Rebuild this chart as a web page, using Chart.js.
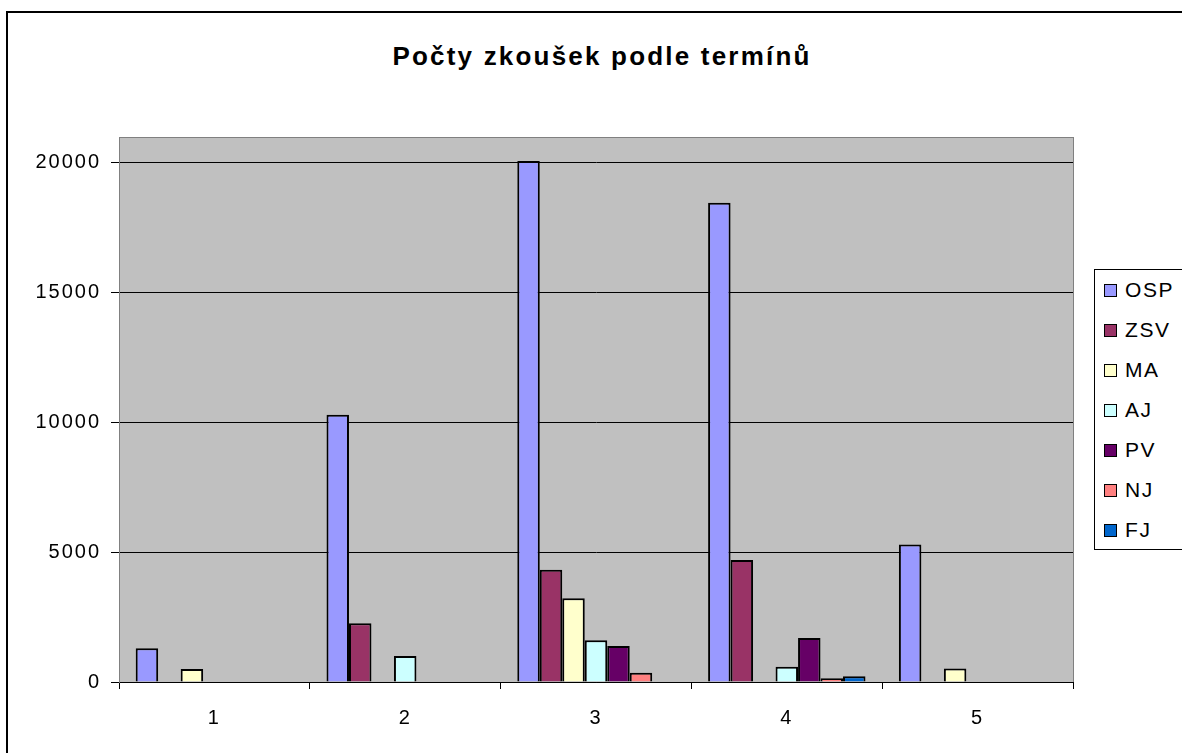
<!DOCTYPE html>
<html>
<head>
<meta charset="utf-8">
<script src="https://cdn.jsdelivr.net/npm/chart.js@4"></script>
<style>
  body { margin: 0; background: #fff; overflow: hidden; }
  #wrap { position: relative; width: 1182px; height: 753px; overflow: hidden; font-family: "Liberation Sans", Arial, sans-serif; }
  #frame { position: absolute; left: 6px; top: 11px; width: 1300px; height: 900px; border: 2px solid #000; }
  #title { position: absolute; left: 360px; width: 484px; top: 40px; text-align: center; font-weight: bold; font-size: 26px; line-height: 32px; letter-spacing: 2.2px; color: #000; }
  #chart-box { position: absolute; left: 0; top: 0; width: 1182px; height: 753px; }
  #legend { position: absolute; left: 1094px; top: 269px; width: 140px; height: 279px; border: 1px solid #000; background: #fff; }
  .item { position: absolute; left: 9px; height: 24px; line-height: 24px; font-size: 21px; letter-spacing: 1.6px; color: #000; }
  .item span { display: inline-block; width: 11px; height: 11px; border: 1px solid #000; margin-right: 8px; vertical-align: 0px; }
</style>
</head>
<body>
<div id="wrap">
  <div id="frame"></div>
  <div id="title">Počty zkoušek podle termínů</div>
  <div id="chart-box"><canvas id="exams"></canvas></div>
  <div id="legend"></div>
</div>
<script>
const terms = ["1", "2", "3", "4", "5"];
const seriesNames = ["OSP", "ZSV", "MA", "AJ", "PV", "NJ", "FJ"];
const seriesColors = ["#9999FF", "#993366", "#FFFFCC", "#CCFFFF", "#660066", "#FF8080", "#0066CC"];

const osp = [1300, 10300, 20080, 18470, 5300];
const zsv = [0, 2260, 4330, 4700, 0];
const ma = [500, 0, 3230, 0, 520];
const aj = [0, 1000, 1610, 590, 0];
const pv = [0, 0, 1390, 1700, 0];
const nj = [0, 0, 360, 140, 0];
const fj = [0, 0, 0, 220, 0];

const yTicks = [0, 5000, 10000, 15000, 20000];

const plotArea = {
  id: "plotArea",
  beforeDraw(chart) {
    const { ctx, chartArea: a } = chart;
    ctx.save();
    ctx.fillStyle = "#C0C0C0";
    ctx.fillRect(a.left, a.top, a.right - a.left, a.bottom - a.top);
    ctx.strokeStyle = "#808080";
    ctx.lineWidth = 1;
    ctx.strokeRect(a.left + 0.5, a.top + 0.5, a.right - a.left, a.bottom - a.top);
    ctx.restore();
    ctx.letterSpacing = "2px";
  },
  beforeLayout(chart) {
    chart.ctx.letterSpacing = "2px";
  },
};

function buildLegend() {
  const box = document.getElementById("legend");
  seriesNames.forEach((name, i) => {
    const el = document.createElement("div");
    el.className = "item";
    el.style.top = 8 + i * 40 + "px";
    const sw = document.createElement("span");
    sw.style.background = seriesColors[i];
    el.appendChild(sw);
    el.appendChild(document.createTextNode(name));
    box.appendChild(el);
  });
}

document.addEventListener("DOMContentLoaded", () => {
  buildLegend();

  const values = [osp, zsv, ma, aj, pv, nj, fj];
  let ctx = document.getElementById("exams").getContext("2d");

  new Chart(ctx, {
    type: "bar",
    data: {
      labels: terms,
      datasets: seriesNames.map((name, i) => ({
        label: name,
        data: values[i],
        backgroundColor: seriesColors[i],
        borderColor: "#000",
        borderWidth: 2,
        borderSkipped: "start",
        categoryPercentage: 0.825,
        barPercentage: 1,
      })),
    },
    options: {
      responsive: true,
      maintainAspectRatio: false,
      animation: false,
      layout: {
        padding: { left: 19, right: 109, top: 137, bottom: 0 },
      },
      plugins: {
        legend: { display: false },
        title: { display: false },
        tooltip: { enabled: false },
      },
      scales: {
        x: {
          offset: true,
          grid: {
            display: true,
            drawOnChartArea: false,
            drawTicks: true,
            tickLength: 7,
            tickColor: "#000",
            offset: true,
          },
          border: { display: true, color: "#000", width: 1 },
          ticks: {
            color: "#000",
            padding: 17,
            font: { family: "Liberation Sans", size: 20 },
          },
          afterFit: (s) => { s.height = 71; },
        },
        y: {
          min: 0,
          max: 21000,
          grid: {
            color: "#000",
            lineWidth: 1,
            drawTicks: true,
            tickLength: 8,
            tickColor: "#000",
          },
          border: { display: true, color: "#808080", width: 1 },
          ticks: {
            stepSize: 5000,
            color: "#000",
            padding: 10,
            font: { family: "Liberation Sans", size: 20 },
            callback: (v) => String(v),
          },
          afterBuildTicks: (s) => {
            s.ticks = yTicks.map((v) => ({ value: v }));
          },
          afterFit: (s) => { s.width = 100; },
        },
      },
    },
    plugins: [plotArea],
  });
});
</script>
</body>
</html>
